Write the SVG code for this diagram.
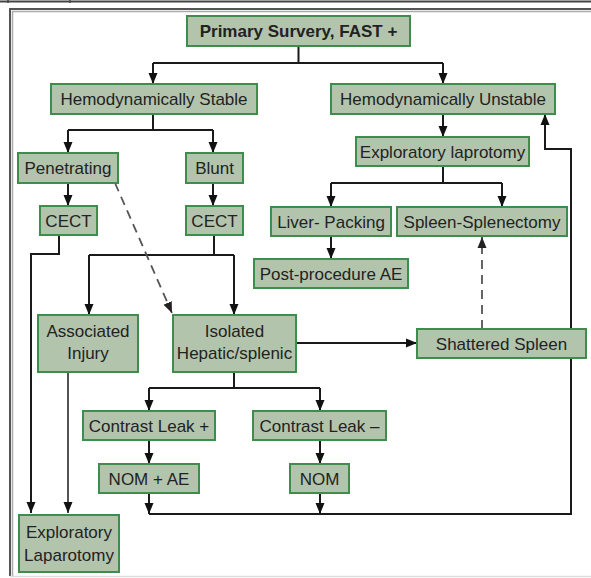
<svg xmlns="http://www.w3.org/2000/svg" width="591" height="578" viewBox="0 0 591 578">
<style>
.n rect{fill:#b3c4ad;stroke:#3f8d4c;stroke-width:2}
.n text{font-family:"Liberation Sans",Arial,sans-serif;font-size:17px;fill:#222;text-anchor:middle}
.c path{fill:none;stroke:#1a1a1a;stroke-width:2}
.c path.d{stroke:#555;stroke-width:1.8;stroke-dasharray:9,6}
.fr{fill:none}
</style>
<defs>
<marker id="a" markerUnits="userSpaceOnUse" markerWidth="12" markerHeight="12" viewBox="0 0 12 12" refX="11" refY="6" orient="auto">
<path d="M0,1.5 L11,6 L0,10.5 z" fill="#111"/>
</marker>
<marker id="ad" markerUnits="userSpaceOnUse" markerWidth="12" markerHeight="12" viewBox="0 0 12 12" refX="11" refY="6" orient="auto">
<path d="M0,1.5 L11,6 L0,10.5 z" fill="#222"/>
</marker>
</defs>
<rect width="591" height="578" fill="#fff"/>
<g id="frame" class="fr">
<path d="M0,1.5 H591" stroke="#444" stroke-width="2"/>
<path d="M8,0 V3 M70,0 V3" stroke="#444" stroke-width="1.5"/>
<path d="M10,576 V9 H591" stroke="#555" stroke-width="2"/>
<path d="M12.5,576 V11.5 H591" stroke="#aaa" stroke-width="1.5"/>
<path d="M10,576.5 H591" stroke="#ddd" stroke-width="1.5"/>
</g>
<g id="connectors" class="c">
<path d="M298.5,46 V63 M153,63 H443"/>
<path d="M153,63 V84" marker-end="url(#a)"/>
<path d="M443,63 V84" marker-end="url(#a)"/>
<path d="M153,114 V130 M68,130 H213"/>
<path d="M68,130 V153" marker-end="url(#a)"/>
<path d="M213,130 V153" marker-end="url(#a)"/>
<path d="M68,183 V206" marker-end="url(#a)"/>
<path d="M213,183 V206" marker-end="url(#a)"/>
<path d="M59,235 V254 H31 V513" marker-end="url(#a)"/>
<path d="M214,235 V255 M89,255 H234"/>
<path d="M89,255 V315" marker-end="url(#a)"/>
<path d="M234,255 V315" marker-end="url(#a)"/>
<path class="d" d="M115,183 L172,313" marker-end="url(#ad)"/>
<path d="M68,372 V513" marker-end="url(#a)" style="stroke-width:1.5"/>
<path d="M234,372 V388 M149,388 H320"/>
<path d="M149,388 V411" marker-end="url(#a)"/>
<path d="M320,388 V411" marker-end="url(#a)"/>
<path d="M296,343 H417" marker-end="url(#a)"/>
<path class="d" d="M482,329 V237" marker-end="url(#ad)"/>
<path d="M149,440 V464" marker-end="url(#a)"/>
<path d="M320,440 V464" marker-end="url(#a)"/>
<path d="M149,493 V514" marker-end="url(#a)"/>
<path d="M320,493 V514" marker-end="url(#a)"/>
<path d="M149,514 H571 V149 H545 V114" marker-end="url(#a)"/>
<path d="M443,114 V137" marker-end="url(#a)"/>
<path d="M443,166 V183 M331,183 H502"/>
<path d="M331,183 V207" marker-end="url(#a)"/>
<path d="M502,183 V207" marker-end="url(#a)"/>
<path d="M331,236 V259" marker-end="url(#a)"/>
</g>
<g id="primary" class="n"><rect x="187" y="16" width="223" height="30"/><text x="298.5" y="37" font-weight="bold">Primary Survery, FAST +</text></g>
<g id="stable" class="n"><rect x="51" y="84" width="206" height="30"/><text x="154" y="105">Hemodynamically Stable</text></g>
<g id="unstable" class="n"><rect x="331" y="84" width="224" height="30"/><text x="443" y="105">Hemodynamically Unstable</text></g>
<g id="penetrating" class="n"><rect x="18" y="153" width="100" height="30"/><text x="68" y="174">Penetrating</text></g>
<g id="blunt" class="n"><rect x="186" y="153" width="57" height="30"/><text x="214.5" y="174">Blunt</text></g>
<g id="exlap1" class="n"><rect x="356" y="137" width="173" height="29"/><text x="442.5" y="157.5">Exploratory laprotomy</text></g>
<g id="cect1" class="n"><rect x="40" y="206" width="57" height="29"/><text x="68.5" y="226.5">CECT</text></g>
<g id="cect2" class="n"><rect x="186" y="206" width="57" height="29"/><text x="214.5" y="226.5">CECT</text></g>
<g id="liver" class="n"><rect x="271" y="207" width="120" height="29"/><text x="331" y="227.5">Liver- Packing</text></g>
<g id="spleen" class="n"><rect x="397" y="207" width="170" height="29"/><text x="482" y="227.5">Spleen-Splenectomy</text></g>
<g id="postae" class="n"><rect x="254" y="259" width="154" height="29"/><text x="331" y="279.5">Post-procedure AE</text></g>
<g id="assoc" class="n"><rect x="38" y="315" width="100" height="57"/><text x="88" y="337">Associated</text><text x="88" y="359">Injury</text></g>
<g id="isolated" class="n"><rect x="173" y="315" width="123" height="57"/><text x="234.5" y="337">Isolated</text><text x="234.5" y="359">Hepatic/splenic</text></g>
<g id="shattered" class="n"><rect x="417" y="329" width="169" height="29"/><text x="501.5" y="349.5">Shattered Spleen</text></g>
<g id="leakpos" class="n"><rect x="83" y="411" width="132" height="29"/><text x="149" y="431.5">Contrast Leak +</text></g>
<g id="leakneg" class="n"><rect x="253" y="411" width="133" height="29"/><text x="319.5" y="431.5">Contrast Leak –</text></g>
<g id="nomae" class="n"><rect x="99" y="464" width="100" height="29"/><text x="149" y="484.5">NOM + AE</text></g>
<g id="nom" class="n"><rect x="290" y="464" width="59" height="29"/><text x="319.5" y="484.5">NOM</text></g>
<g id="exlap2" class="n"><rect x="19" y="515" width="100" height="57"/><text x="69" y="538">Exploratory</text><text x="69" y="561">Laparotomy</text></g>
</svg>
